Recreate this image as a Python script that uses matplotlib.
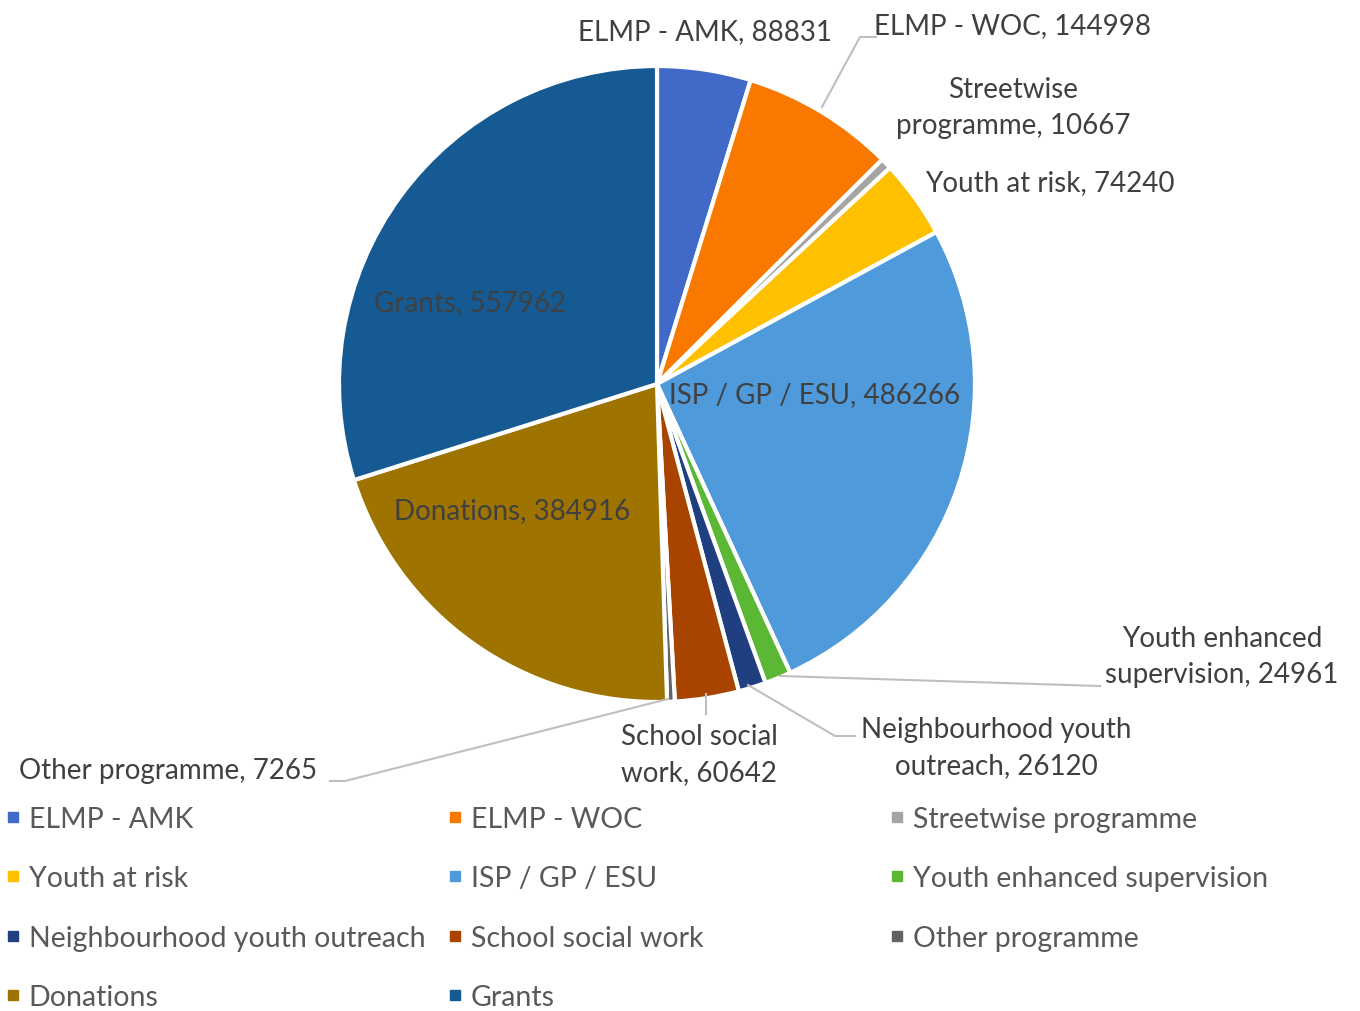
import matplotlib.pyplot as plt
from matplotlib.lines import Line2D

labels = ['ELMP - AMK', 'ELMP - WOC', 'Streetwise programme', 'Youth at risk',
          'ISP / GP / ESU', 'Youth enhanced supervision', 'Neighbourhood youth outreach',
          'School social work', 'Other programme', 'Donations', 'Grants']
values = [88831, 144998, 10667, 74240, 486266, 24961, 26120, 60642, 7265, 384916, 557962]
colors = ['#4169C8', '#F87800', '#A5A5A5', '#FFC000', '#4E9ADB', '#5BB834',
          '#1F3F80', '#A84400', '#636363', '#9E7300', '#165A93']

# label text as shown in the chart (some wrapped)
label_text = ['ELMP - AMK', 'ELMP - WOC', 'Streetwise\nprogramme', 'Youth at risk',
              'ISP / GP / ESU', 'Youth enhanced\nsupervision', 'Neighbourhood youth\noutreach',
              'School social\nwork', 'Other programme', 'Donations', 'Grants']

W, H = 1360, 1012
plt.rcParams['font.family'] = ['Lato', 'DejaVu Sans']

fig = plt.figure(figsize=(W / 100, H / 100), dpi=100)
ax = fig.add_axes([0, 0, 1, 1])

cx, cy, r = 657, H - 385, 318
wedges, _ = ax.pie(values, colors=colors, startangle=90, counterclock=False,
                   center=(cx, cy), radius=r, frame=True,
                   wedgeprops=dict(edgecolor='white', linewidth=3))
ax.set_xlim(0, W)
ax.set_ylim(0, H)
ax.set_aspect('equal')
ax.axis('off')

# label placement (pixel positions, y from top), and optional leader line points
label_pos = [(705, 32), (1012, 26), (1013, 108), (1050, 183), (815, 395), (1222, 657),
             (996, 748), (699, 755), (168, 771), (512, 511), (470, 303)]
leaders = {
    1: [(822, 108), (860, 38), (876, 38)],
    5: [(780, 677), (1100, 687)],
    6: [(748, 686), (835, 737), (855, 737)],
    7: [(706, 695), (706, 715)],
    8: [(668, 700), (345, 782), (330, 782)],
}
for i, pts in leaders.items():
    ax.plot([p[0] for p in pts], [H - p[1] for p in pts], color='#BFBFBF', lw=1.5)

for i, (txt, v) in enumerate(zip(label_text, values)):
    x, y = label_pos[i]
    ax.text(x, H - y, f'{txt}, {v}', ha='center', va='center', fontsize=20,
            color='#404040', linespacing=1.45)

# legend in three equal-width columns, row-major order
ncol = 3
col_x = [-0.006, 0.319, 0.644]
for c in range(ncol):
    idx = list(range(c, len(labels), ncol))
    handles = [Line2D([], [], marker='s', ls='', markersize=7, color=colors[i]) for i in idx]
    fig.legend(handles, [labels[i] for i in idx], loc='upper left',
               bbox_to_anchor=(col_x[c], 0.2165), frameon=False, fontsize=20.5,
               handlelength=0.5, handletextpad=0.3, labelspacing=1.17,
               borderpad=0, labelcolor='#595959')

fig.savefig('out.png', dpi=100)
